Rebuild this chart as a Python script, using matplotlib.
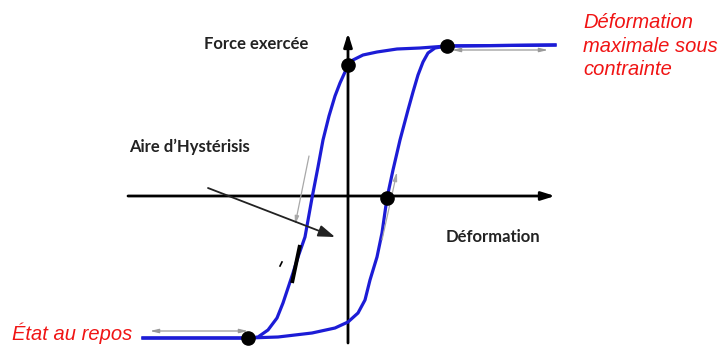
import matplotlib
matplotlib.use('Agg')
import matplotlib.pyplot as plt

# Hysteresis loop (origin at the axes crossing)
# branch going up on the left (unloading side)
left_def = [-205, -100, -90, -80, -71, -65, -60, -55, -50, -43, -36, -30, -25,
            -19, -13, -8, -3, 0, 5, 15, 29, 49, 72, 99, 207]
left_force = [-142, -142, -141, -134, -122, -107, -92, -77, -61, -41, -2, 29, 56,
              80, 100, 113, 124, 131, 136, 141, 144, 147, 148, 150, 151]
# branch going up on the right (loading side)
right_def = [-205, -100, -70, -36, -13, 0, 10, 17, 22, 29, 34, 39, 45, 52,
             60, 65, 70, 75, 80, 87, 99, 207]
right_force = [-142, -142, -141, -137, -132, -126, -117, -104, -84, -61, -37,
               -2, 26, 56, 86, 104, 121, 134, 143, 148, 150, 151]

# key points on the loop
dots_def = [-100, 0, 99, 39]
dots_force = [-142, 131, 150, -2]

blue = '#1c1cd6'
red = '#f01414'

fig = plt.figure(figsize=(7.23, 3.46), dpi=100)
ax = fig.add_axes([0, 0, 1, 1])
ax.set_xlim(-348, 375)
ax.set_ylim(-150, 196)
ax.axis('off')

# axes with arrows
ax.annotate('', xy=(207, 0), xytext=(-220, 0),
            arrowprops=dict(arrowstyle='-|>,head_length=0.8,head_width=0.25',
                            color='black', lw=2, shrinkA=0, shrinkB=0))
ax.annotate('', xy=(0, 163), xytext=(0, -147),
            arrowprops=dict(arrowstyle='-|>,head_length=0.8,head_width=0.25',
                            color='black', lw=2, shrinkA=0, shrinkB=0))

# loop
ax.plot(left_def, left_force, color=blue, lw=2.3, solid_joinstyle='round', zorder=3)
ax.plot(right_def, right_force, color=blue, lw=2.3, solid_joinstyle='round', zorder=3)
ax.plot(dots_def, dots_force, 'o', color='black', ms=9.5, zorder=4)

# thin gray helper arrows
gray = dict(arrowstyle='<|-|>,head_length=0.5,head_width=0.12', color='#9a9a9a',
            lw=0.9, shrinkA=0, shrinkB=0)
ax.annotate('', xy=(200, 146), xytext=(104, 146), arrowprops=gray)
ax.annotate('', xy=(-100, -135), xytext=(-198, -135), arrowprops=gray)
single = dict(arrowstyle='-|>,head_length=0.5,head_width=0.12', color='#a8a8a8',
              lw=0.9, shrinkA=0, shrinkB=0)
ax.annotate('', xy=(-53, -29), xytext=(-39, 40), arrowprops=single)
ax.annotate('', xy=(49, 24), xytext=(34, -44), arrowprops=single)

# thick black mark on the left branch
ax.plot([-48, -56], [-49, -87], color='black', lw=2.8, solid_capstyle='butt', zorder=4)
ax.plot([-66, -68], [-66, -70], color='black', lw=1.2)

# arrow pointing to the loop area
ax.annotate('', xy=(-13, -41), xytext=(-140, 8),
            arrowprops=dict(arrowstyle='-|>,head_length=1.0,head_width=0.35',
                            color='#222222', lw=1.3, shrinkA=0, shrinkB=0))

bold = dict(family='Lato', fontweight='bold', fontsize=12, color='#222222')
ax.text(-92, 152, 'Force exercée', ha='center', va='center', **bold)
ax.text(-159, 49, 'Aire d\u2019Hystérisis', ha='center', va='center', **bold)
ax.text(145, -41, 'Déformation', ha='center', va='center', **bold)

ital = dict(family='Liberation Sans', style='italic', fontsize=14.5, color=red)
ax.text(235, 183, 'Déformation\nmaximale sous\ncontrainte', ha='left', va='top',
        linespacing=1.3, **ital)
ax.text(-276, -137, 'État au repos', ha='center', va='center', **ital)

fig.savefig('out.png', dpi=100)
